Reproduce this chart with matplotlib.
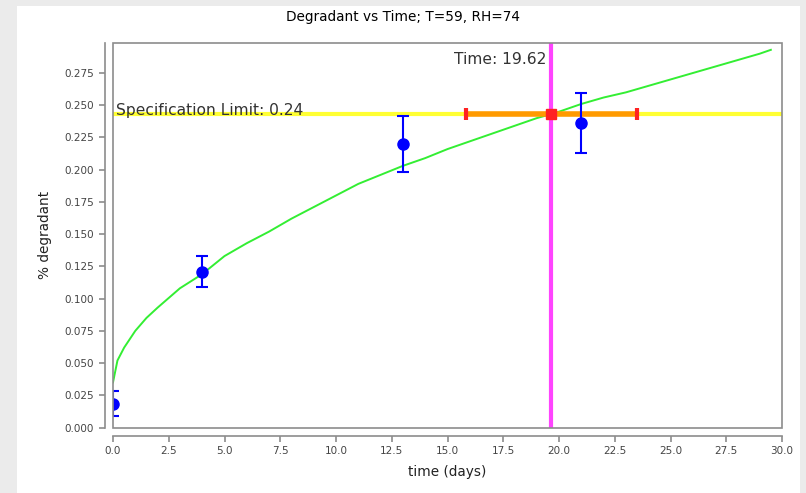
import matplotlib
matplotlib.use("Agg")
import matplotlib.pyplot as plt
from matplotlib.patches import Rectangle

# ---- data ----
obs_time = [0, 4, 13, 21]
obs_deg = [0.0184, 0.1203, 0.2200, 0.2360]
obs_err_lo = [0.0091, 0.0116, 0.0214, 0.0232]
obs_err_hi = [0.0097, 0.0127, 0.0217, 0.0237]

fit_time = [0, 0.2, 0.5, 1.0, 1.5, 2.0, 3.0, 4.0, 5.0, 6.0, 7.0, 8.0, 9.0, 10.0,
            11.0, 12.0, 13.0, 14.0, 15.0, 16.0, 17.0, 18.0, 19.0, 19.62, 20.0,
            21.0, 22.0, 23.0, 24.0, 25.0, 26.0, 27.0, 28.0, 29.0, 29.5]
fit_deg = [0.035, 0.052, 0.062, 0.075, 0.085, 0.093, 0.108, 0.119, 0.133, 0.143,
           0.152, 0.162, 0.171, 0.180, 0.189, 0.196, 0.203, 0.209, 0.216, 0.222,
           0.228, 0.234, 0.240, 0.243, 0.245, 0.251, 0.256, 0.260, 0.265, 0.270,
           0.275, 0.280, 0.285, 0.290, 0.293]

spec_limit = 0.243
spec_label = "Specification Limit: 0.24"
cross_time = 19.62
cross_lo = 15.85
cross_hi = 23.49
cross_label = "Time: 19.62"

xticks = [0.0, 2.5, 5.0, 7.5, 10.0, 12.5, 15.0, 17.5, 20.0, 22.5, 25.0, 27.5, 30.0]
yticks = [0.0, 0.025, 0.05, 0.075, 0.1, 0.125, 0.15, 0.175, 0.2, 0.225, 0.25, 0.275]

title = "Degradant vs Time; T=59, RH=74"
xlabel = "time (days)"
ylabel = "% degradant"

# ---- figure ----
W, H = 806, 493
fig = plt.figure(figsize=(W / 100, H / 100), dpi=100)
fig.patch.set_facecolor("#ebebeb")
bg = Rectangle((17 / W, 0), (800 - 17) / W, (H - 6) / H,
               transform=fig.transFigure, facecolor="white",
               edgecolor="none", zorder=-10)
fig.add_artist(bg)

L, R, T, B = 113, 782, 43, 427.5
ax = fig.add_axes([L / W, (H - B) / H, (R - L) / W, (B - T) / H])
ax.set_zorder(1)
ax.set_facecolor("white")

gray = "#8c8c8c"
for s in ["top", "right"]:
    ax.spines[s].set_visible(False)
for s in ["left", "bottom"]:
    ax.spines[s].set_position(("outward", 6))
    ax.spines[s].set_color(gray)
    ax.spines[s].set_linewidth(1.2)
ax.add_patch(Rectangle((0, 0), 1, 1, transform=ax.transAxes, fill=False,
                       edgecolor=gray, linewidth=1.2, clip_on=False, zorder=10))

ax.set_xlim(0, 30)
ax.set_ylim(0, 0.2983)
ax.set_xticks(xticks)
ax.set_xticklabels([f"{v:.1f}" for v in xticks])
ax.set_yticks(yticks)
ax.set_yticklabels([f"{v:.3f}" for v in yticks])
ax.tick_params(axis="both", colors=gray, labelcolor="#444444", labelsize=7.5,
               length=4, width=1.2, direction="out")

# spec limit line
ax.axhline(spec_limit, color="#ffff33", linewidth=3, zorder=2)
ax.text(0.15, spec_limit - 0.0005, spec_label, fontsize=11.2, color="#333333",
        ha="left", va="baseline", zorder=6)

# fit curve
ax.plot(fit_time, fit_deg, color="#33ee33", linewidth=1.4, zorder=3)

# crossing interval
ax.plot([cross_lo, cross_hi], [spec_limit, spec_limit], color="#ff9a00",
        linewidth=4, solid_capstyle="butt", zorder=4)
ax.plot([cross_lo, cross_hi], [spec_limit, spec_limit], linestyle="none",
        marker="|", markersize=8, markeredgewidth=3, color="#ff2222", zorder=5)
ax.axvline(cross_time, color="#ff44ff", linewidth=3, zorder=4)
ax.plot([cross_time], [spec_limit], linestyle="none", marker="s",
        markersize=7, color="#ff2222", zorder=5)
ax.text(cross_time - 0.2, 0.2855, cross_label, fontsize=11.2, color="#333333",
        ha="right", va="center", zorder=6)

# observations
eb = ax.errorbar(obs_time, obs_deg, yerr=[obs_err_lo, obs_err_hi], fmt="o",
                 color="#0000ff", markersize=8, ecolor="#0000ff", elinewidth=1.5,
                 capsize=4, capthick=1.5, zorder=7)
eb[0].set_clip_on(True)
eb[0].set_clip_path(ax.patch)

fig.text((L + R) / 2 / W - 0.055, 1 - 17 / H, title, fontsize=9.8, color="black",
         ha="center", va="center")
ax.set_xlabel(xlabel, fontsize=9.8, color="#222222", labelpad=6)
ax.set_ylabel(ylabel, fontsize=9.8, color="#222222", labelpad=9)

fig.savefig("out.png", dpi=100)
